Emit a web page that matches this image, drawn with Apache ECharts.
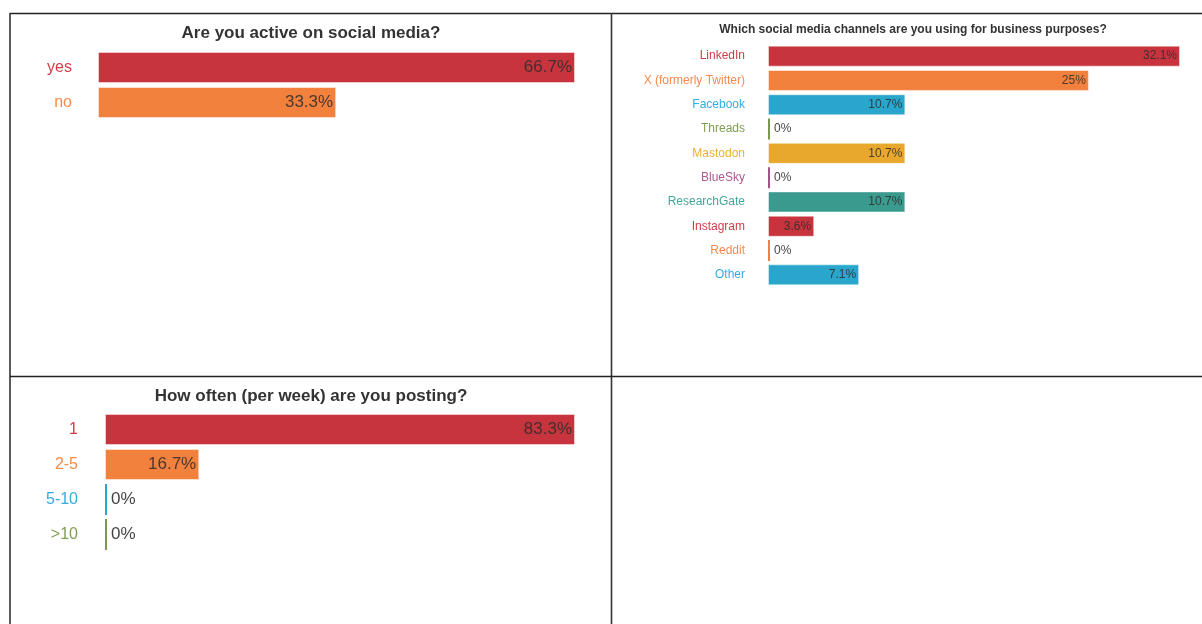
<!DOCTYPE html>
<html>
<head>
<meta charset="utf-8">
<style>
html,body{margin:0;padding:0;background:#fff;}
#main{width:1202px;height:624px;}
</style>
<script src="https://cdn.jsdelivr.net/npm/echarts@6/dist/echarts.min.js"></script>
</head>
<body>
<div id="main"></div>
<script>
// ---- data ----
const q1Title = 'Are you active on social media?';
const q1Categories = ['yes', 'no'];
const q1Values = [66.7, 33.3];

const q2Title = 'Which social media channels are you using for business purposes?';
const q2Categories = ['LinkedIn', 'X (formerly Twitter)', 'Facebook', 'Threads', 'Mastodon', 'BlueSky', 'ResearchGate', 'Instagram', 'Reddit', 'Other'];
const q2Values = [32.1, 25, 10.7, 0, 10.7, 0, 10.7, 3.6, 0, 7.1];

const q3Title = 'How often (per week) are you posting?';
const q3Categories = ['1', '2-5', '5-10', '>10'];
const q3Values = [83.3, 16.7, 0, 0];

const palette = ['#c8343e', '#f3813e', '#2aa6cc', '#7a9a49', '#e8a82d', '#a8508a', '#3b9a8e'];
const labelPalette = ['#cf3d4a', '#f58a4d', '#33ade0', '#7f9f52', '#eeaf35', '#ad5a90', '#43a79a'];

const FONT = '"Liberation Sans", Arial, Helvetica, sans-serif';

function catData(cats) {
  return cats.map((c, i) => ({
    value: c,
    textStyle: { color: labelPalette[i % labelPalette.length] }
  }));
}
function barData(vals) {
  return vals.map((v, i) => ({
    value: v,
    itemStyle: {
      color: palette[i % palette.length],
      borderColor: v === 0 ? palette[i % palette.length] : 'rgba(255,255,255,0.45)',
      borderWidth: v === 0 ? 0 : 1
    },
    label: v === 0
      ? { position: 'right', distance: 4, color: '#454545' }
      : { position: 'insideRight', distance: 3, color: 'rgba(45,45,45,0.85)' }
  }));
}

const grids = [
  { left: 98, width: 477, top: 50, height: 70 },
  { left: 768, width: 412, top: 44, height: 243 },
  { left: 105, width: 470, top: 412, height: 140 }
];
const catLists = [q1Categories, q2Categories, q3Categories];
const valLists = [q1Values, q2Values, q3Values];
const labelFont = [16, 12, 16];
const valueFont = [17, 12, 17];
const labelMargin = [26, 23, 27];
const barWidths = [31, 21, 31];

const chart = echarts.init(document.getElementById('main'), null, { renderer: 'canvas' });

const option = {
  animation: false,
  backgroundColor: '#fff',
  textStyle: { fontFamily: FONT },
  title: [
    { text: q1Title, left: 306, top: 20, textAlign: 'center',
      textStyle: { fontSize: 17, fontWeight: 'bold', color: '#333', fontFamily: FONT } },
    { text: q2Title, left: 908, top: 19, textAlign: 'center',
      textStyle: { fontSize: 12, fontWeight: 'bold', color: '#333', fontFamily: FONT } },
    { text: q3Title, left: 306, top: 383, textAlign: 'center',
      textStyle: { fontSize: 17, fontWeight: 'bold', color: '#333', fontFamily: FONT } }
  ],
  grid: grids.map(g => Object.assign({ containLabel: false }, g)),
  xAxis: grids.map((g, i) => ({
    type: 'value', gridIndex: i, min: 0, max: 'dataMax', show: false
  })),
  yAxis: grids.map((g, i) => ({
    type: 'category', gridIndex: i, inverse: true,
    data: catData(catLists[i]),
    axisLine: { show: false }, axisTick: { show: false }, splitLine: { show: false },
    axisLabel: { fontSize: labelFont[i], margin: labelMargin[i], fontFamily: FONT }
  })),
  series: valLists.map((vals, i) => ({
    type: 'bar',
    xAxisIndex: i, yAxisIndex: i,
    barWidth: barWidths[i],
    barMinHeight: 2,
    data: barData(vals),
    label: {
      show: true, fontSize: valueFont[i], fontFamily: FONT,
      formatter: p => p.value + '%'
    }
  })),
  graphic: [
    { type: 'line', shape: { x1: 10, y1: 13.5, x2: 1202, y2: 13.5 }, style: { stroke: '#222', lineWidth: 1.6 } },
    { type: 'line', shape: { x1: 10, y1: 13, x2: 10, y2: 624 }, style: { stroke: '#333', lineWidth: 1.6 } },
    { type: 'line', shape: { x1: 611.5, y1: 13, x2: 611.5, y2: 624 }, style: { stroke: '#333', lineWidth: 1.6 } },
    { type: 'line', shape: { x1: 10, y1: 376.5, x2: 1202, y2: 376.5 }, style: { stroke: '#222', lineWidth: 1.6 } }
  ]
};
chart.setOption(option);
</script>
</body>
</html>
